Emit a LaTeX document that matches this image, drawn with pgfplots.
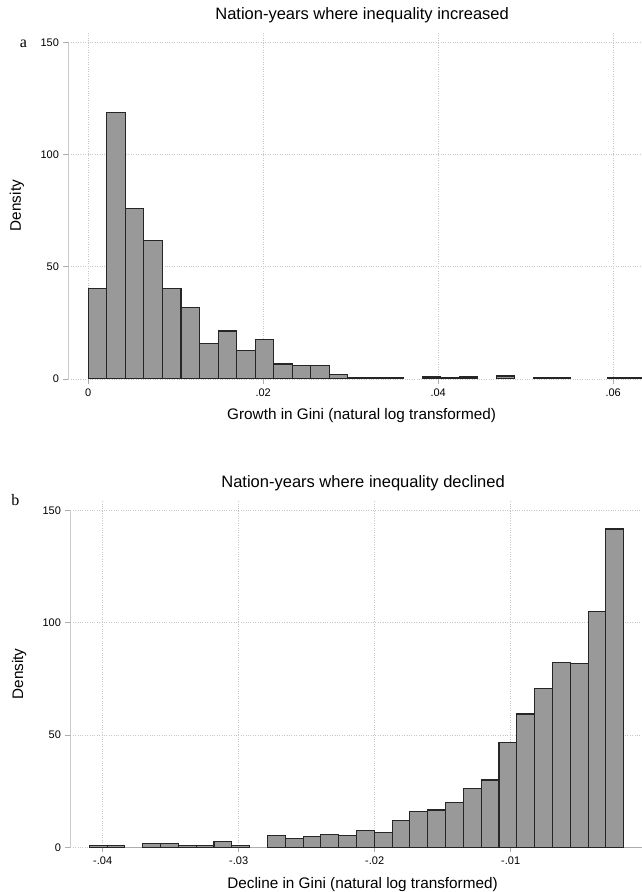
\documentclass[border=0pt]{standalone}
\usepackage{pgfplots}
\pgfplotsset{compat=1.18}
\usepackage{fontspec}
\setmainfont{Liberation Sans}
\newfontfamily\panelfont{Liberation Serif}

\definecolor{barfill}{gray}{0.6}
\definecolor{baredge}{gray}{0.15}
\definecolor{axisgray}{gray}{0.68}
\definecolor{gridgray}{gray}{0.78}

% bin centres and densities
\pgfplotstableread{
x y
0.00106 40.2
0.00318 118.6
0.00530 75.9
0.00742 61.9
0.00954 40.2
0.01166 31.9
0.01378 15.9
0.01590 21.4
0.01802 12.6
0.02014 17.4
0.02226 6.7
0.02438 5.9
0.02650 5.9
0.02862 2.2
0.03074 0.45
0.03286 0.45
0.03498 0.45
0.03922 0.9
0.04134 0.45
0.04346 0.9
0.04770 1.35
0.05194 0.45
0.05406 0.45
0.06042 0.45
0.06254 0.45
}\increased

\pgfplotstableread{
x y
-0.040330 0.8
-0.039020 0.8
-0.036401 1.6
-0.035091 1.6
-0.033781 0.8
-0.032471 0.8
-0.031162 2.4
-0.029852 0.8
-0.027232 5.2
-0.025922 3.9
-0.024613 5.0
-0.023303 5.8
-0.021993 5.2
-0.020683 7.3
-0.019374 6.4
-0.018064 11.9
-0.016754 15.9
-0.015444 16.6
-0.014135 20.0
-0.012825 26.0
-0.011515 30.0
-0.010205 46.8
-0.008896 59.4
-0.007586 70.8
-0.006276 82.2
-0.004966 81.8
-0.003656 105.0
-0.002347 141.8
}\declined

\pgfplotsset{
  statahist/.style={
    scale only axis,
    height=346.8pt,
    ymin=0, ymax=154.5,
    axis x line*=bottom, axis y line*=left,
    axis line style={draw=none},
    tick style={axisgray, line width=0.9pt},
    tick align=outside, major tick length=5pt,
    scaled x ticks=false,
    ytick={0,50,100,150}, yticklabels={0,50,100,150},
    grid=major, major grid style={gridgray, dotted, line width=0.8pt},
    tick label style={font=\fontsize{11}{13}\selectfont},
    xticklabel style={yshift=-1pt},
    yticklabel style={xshift=-1pt},
    label style={font=\fontsize{15.3}{18}\selectfont},
    title style={font=\fontsize{16.5}{19}\selectfont, at={(0.512,1)}, anchor=base, yshift=7pt},
    xlabel style={at={(0.511,0)}, anchor=base, yshift=-41pt},
    ylabel style={at={(-0.09,0.5)}, anchor=center},
    ylabel={Density},
    clip=true,
  },
  histbar/.style={ybar, fill=barfill, draw=baredge, line width=1.1pt},
}

\begin{document}
\begin{tikzpicture}
\path[use as bounding box] (0,0) rectangle (642pt,892pt);

\begin{axis}[statahist,
  at={(68.5pt,513pt)}, anchor=south west, width=573.5pt,
  xmin=-0.002251, xmax=0.06329,
  xtick={0,0.02,0.04,0.06}, xticklabels={0,.02,.04,.06},
  title={Nation-years where inequality increased},
  xlabel={Growth in Gini (natural log transformed)}]
  \draw[axisgray, line width=0.9pt] (axis cs:-0.002251,0) -- (axis cs:-0.002251,150);
  \draw[axisgray, line width=0.9pt] (axis cs:0,0) -- (axis cs:0.06329,0);
  \addplot[histbar, bar width=0.00212] table[x=x, y=y] {\increased};
\end{axis}

\begin{axis}[statahist,
  at={(70.5pt,44.7pt)}, anchor=south west, width=571.5pt,
  xmin=-0.042368, xmax=-0.000346,
  xtick={-0.04,-0.03,-0.02,-0.01}, xticklabels={-.04,-.03,-.02,-.01},
  title={Nation-years where inequality declined},
  xlabel={Decline in Gini (natural log transformed)}]
  \draw[axisgray, line width=0.9pt] (axis cs:-0.042368,0) -- (axis cs:-0.042368,150);
  \draw[axisgray, line width=0.9pt] (axis cs:-0.040985,0) -- (axis cs:-0.000346,0);
  \addplot[histbar, bar width=0.0013098] table[x=x, y=y] {\declined};
\end{axis}

\node[anchor=base, font=\panelfont\fontsize{16}{18}\selectfont] at (23.5pt,844.7pt) {a};
\node[anchor=base, font=\panelfont\fontsize{16}{18}\selectfont] at (15.3pt,386pt) {b};
\end{tikzpicture}
\end{document}
